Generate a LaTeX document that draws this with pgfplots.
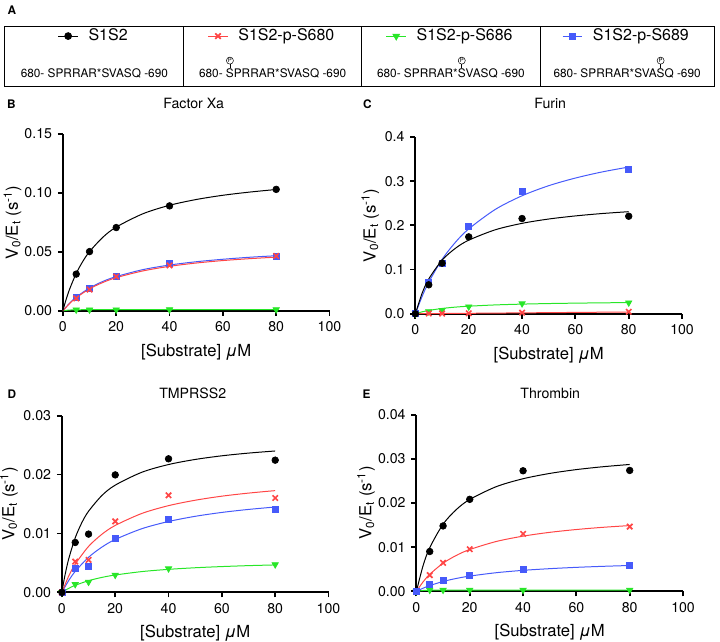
\documentclass[border=0pt]{standalone}
\usepackage{pgfplots}
\pgfplotsset{compat=1.18}
\usepackage{fontspec}
\setmainfont{TeX Gyre Heros}
\definecolor{sred}{RGB}{255,70,70}
\definecolor{sgreen}{RGB}{40,230,40}
\definecolor{sblue}{RGB}{70,90,250}

% circled P over a residue
\newcommand\circP{\tikz[baseline=(p.base)]\node[draw,circle,inner sep=0.25pt,line width=0.3pt,font=\fontsize{3.6}{4}\selectfont](p){P};}
\newcommand\phos[1]{\ooalign{#1\cr\hidewidth\raisebox{5.7pt}{\rule{0.35pt}{2.5pt}}\hidewidth\cr\hidewidth\raisebox{9.0pt}{\circP}\hidewidth\cr}}
\newcommand\seqfont{\fontsize{7.1}{8}\selectfont}

\pgfplotsset{
  panel/.style={
    scale only axis, width=160.2pt, height=106.2pt, anchor=south west,
    xmin=0, xmax=100, ymin=0, clip=false,
    axis x line*=bottom, axis y line*=left,
    axis line style={line width=1.1pt},
    tick align=outside, major tick length=3pt,
    tick style={line width=1.1pt, black},
    xtick={0,20,...,100},
    scaled y ticks=false,
    tick label style={font=\fontsize{8.5}{10}\selectfont},
    /pgf/number format/assume math mode=true,
    yticklabel style={/pgf/number format/fixed, /pgf/number format/fixed zerofill, /pgf/number format/precision=2},
    xlabel={[Substrate] {\itshape μ}M},
    ylabel={V\textsubscript{0}/E\textsubscript{t} (s\textsuperscript{-1})},
    label style={font=\fontsize{8.5}{10}\selectfont},
    every axis x label/.style={at={(axis description cs:0.5,-0.184)}, anchor=north, inner sep=0pt},
    legend style={draw=none, fill=none, font=\fontsize{9.6}{11}\selectfont, anchor=center, inner sep=0pt,
      /tikz/every odd column/.append style={column sep=4pt}},
  },
  ylab/.style={every axis y label/.style={at={(axis description cs:#1,0.5)}, rotate=90, anchor=south, inner sep=0pt}},
  cv/.style={line width=0.6pt, smooth, forget plot},
  pk/.style={only marks, forget plot},
  kblack/.style={black, mark=*, mark size=2pt},
  kred/.style={sred, mark=x, mark size=2.3pt, mark options={line width=1pt}},
  kgreen/.style={sgreen, mark=triangle*, mark size=2.2pt, mark options={rotate=180}},
  kblue/.style={sblue, mark=square*, mark size=1.8pt},
  legend image code/.code={\draw[mark repeat=2,mark phase=2,line width=0.6pt,#1] plot coordinates {(0cm,0cm) (0.21cm,0cm) (0.42cm,0cm)};},
}

\begin{document}
\begin{tikzpicture}
\path (0pt,0pt) rectangle (432pt,384.6pt);

% texts and frame, in pixel units from top-left
\begin{scope}[x=0.6pt, y=-0.6pt, shift={(0pt,384.6pt)}]
\draw[line width=0.6pt] (4,25) rectangle (714,85);
\draw[line width=0.6pt] (183,25) -- (183,85) (361,25) -- (361,85) (540,25) -- (540,85);
\node[anchor=base, font=\fontsize{7.1}{8}\bfseries] at (11,13) {A};
\node[anchor=base, font=\seqfont] at (93.5,76.7) {680- SPRRAR*SVASQ -690};
\node[anchor=base, font=\seqfont] at (272,76.7) {680- \phos{S}PRRAR*SVASQ -690};
\node[anchor=base, font=\seqfont] at (450.5,76.7) {680- SPRRAR*\phos{S}VASQ -690};
\node[anchor=base, font=\seqfont] at (627,76.7) {680- SPRRAR*SVA\phos{S}Q -690};
\foreach \l/\x/\y in {B/10.5/107, C/367/107, D/11/398, E/366/398}
  \node[anchor=base, font=\fontsize{7.1}{8}\bfseries] at (\x,\y) {\l};
\node[anchor=base, font=\fontsize{8.5}{10}\selectfont] at (193,107.3) {Factor Xa};
\node[anchor=base, font=\fontsize{8.5}{10}\selectfont] at (550,107.3) {Furin};
\node[anchor=base, font=\fontsize{8.5}{10}\selectfont] at (192,398) {TMPRSS2};
\node[anchor=base, font=\fontsize{8.5}{10}\selectfont] at (550,398) {Thrombin};
\end{scope}

% ---- B: Factor Xa
\begin{axis}[panel, ylab=-0.154, at={(37.2pt,198.6pt)}, ymax=0.15, ytick={0,0.05,0.1,0.15},
  legend style={at={(0.118,1.554)}}]
\addlegendimage{kblack}\addlegendentry{S1S2}
\addplot[cv, sblue] coordinates {(0,0) (2.5,0.0064) (5,0.0116) (10,0.0193) (15,0.0249) (20,0.0290) (30,0.0349) (40,0.0388) (50,0.0416) (60,0.0437) (70,0.0454) (80,0.0467)};
\addplot[pk, kblue] coordinates {(5,0.0115) (10,0.0190) (20,0.0295) (40,0.0400) (80,0.0462)};
\addplot[cv, sgreen] coordinates {(0,0) (2.5,0.0006) (5,0.0008) (10,0.0009) (20,0.0009) (40,0.0010) (80,0.0010)};
\addplot[pk, kgreen] coordinates {(5,0.0008) (10,0.0008) (20,0.0009) (40,0.0010) (80,0.0010)};
\addplot[cv, sred] coordinates {(0,0) (2.5,0.0061) (5,0.0111) (10,0.0186) (15,0.0240) (20,0.0281) (30,0.0338) (40,0.0377) (50,0.0405) (60,0.0426) (70,0.0442) (80,0.0455)};
\addplot[pk, kred] coordinates {(5,0.0105) (10,0.0180) (20,0.0290) (40,0.0385) (80,0.0465)};
\addplot[cv, black] coordinates {(0,0) (1,0.0080) (2.5,0.0182) (5,0.0317) (7.5,0.0420) (10,0.0502) (15,0.0624) (20,0.0710) (30,0.0823) (40,0.0895) (50,0.0944) (60,0.0980) (70,0.1007) (80,0.1029)};
\addplot[pk, kblack] coordinates {(5,0.0311) (10,0.0502) (20,0.0706) (40,0.0890) (80,0.1030)};
\end{axis}

% ---- C: Furin
\begin{axis}[panel, ylab=-0.135, at={(249pt,196.8pt)}, ymax=0.4, ytick={0,0.1,...,0.4},
  yticklabel style={/pgf/number format/precision=1},
  legend style={at={(-0.5356,1.5706)}}]
\addlegendimage{kred}\addlegendentry{S1S2-p-S680}
\addplot[cv, sgreen] coordinates {(0,0) (2.5,0.0043) (5,0.0075) (10,0.0120) (15,0.0150) (20,0.0171) (30,0.0200) (40,0.0218) (50,0.0231) (60,0.0240) (70,0.0247) (80,0.0253)};
\addplot[pk, kgreen] coordinates {(0,0) (5,0.005) (10,0.008) (20,0.016) (40,0.023) (80,0.025)};
\addplot[cv, sred] coordinates {(0,0) (20,0.001) (40,0.002) (60,0.003) (80,0.004)};
\addplot[pk, kred] coordinates {(0,0) (5,0.0005) (10,0.0005) (20,0.001) (40,0.0025) (80,0.0045)};
\addplot[cv, sblue] coordinates {(0,0) (2.5,0.0389) (5,0.0714) (10,0.1229) (15,0.1617) (20,0.1920) (30,0.2363) (40,0.2670) (50,0.2898) (60,0.3071) (70,0.3209) (80,0.3320)};
\addplot[pk, kblue] coordinates {(0,0) (5,0.071) (10,0.113) (20,0.197) (40,0.278) (80,0.327)};
\addplot[cv, black] coordinates {(0,0) (2.5,0.0462) (5,0.0787) (10,0.1213) (15,0.1481) (20,0.1665) (30,0.1901) (40,0.2046) (50,0.2144) (60,0.2214) (70,0.2268) (80,0.2310)};
\addplot[pk, kblack] coordinates {(0,0) (5,0.0655) (10,0.1145) (20,0.174) (40,0.2155) (80,0.2207)};
\end{axis}

% ---- D: TMPRSS2
\begin{axis}[panel, ylab=-0.164, at={(36.6pt,29.4pt)}, ymax=0.03, ytick={0,0.01,0.02,0.03},
  legend style={at={(1.4588,3.1469)}}]
\addlegendimage{kgreen}\addlegendentry{S1S2-p-S686}
\addplot[cv, sgreen] coordinates {(0,0) (2.5,0.00067) (5,0.00120) (10,0.00198) (15,0.00254) (20,0.00295) (30,0.00353) (40,0.00391) (50,0.00418) (60,0.00438) (70,0.00454) (80,0.00466)};
\addplot[pk, kgreen] coordinates {(0,0) (5,0.00136) (10,0.00176) (20,0.00295) (40,0.00403) (80,0.00472)};
\addplot[cv, sblue] coordinates {(0,0) (2.5,0.00197) (5,0.00356) (10,0.00596) (15,0.00768) (20,0.00898) (30,0.01081) (40,0.01203) (50,0.01291) (60,0.01357) (70,0.01408) (80,0.01449)};
\addplot[pk, kblue] coordinates {(0,0) (5,0.00415) (10,0.00438) (20,0.00909) (40,0.01244) (80,0.01415)};
\addplot[cv, sred] coordinates {(0,0) (2.5,0.00271) (5,0.00479) (10,0.00780) (15,0.00986) (20,0.01136) (30,0.01340) (40,0.01472) (50,0.01564) (60,0.01633) (70,0.01685) (80,0.01727)};
\addplot[pk, kred] coordinates {(0,0) (5,0.00523) (10,0.00551) (20,0.01205) (40,0.01648) (80,0.01602)};
\addplot[cv, black] coordinates {(0,0) (1,0.00255) (2.5,0.00559) (5,0.00926) (7.5,0.01185) (10,0.01377) (15,0.01644) (20,0.01820) (30,0.02039) (40,0.02170) (50,0.02256) (60,0.02318) (70,0.02364) (80,0.02400)};
\addplot[pk, kblack] coordinates {(0,0) (5,0.00847) (10,0.00989) (20,0.01994) (40,0.02267) (80,0.02244)};
\end{axis}

% ---- E: Thrombin
\begin{axis}[panel, ylab=-0.154, at={(249.6pt,30pt)}, ymax=0.04, ytick={0,0.01,...,0.04},
  legend style={at={(0.7903,3.1412)}}]
\addlegendimage{kblue}\addlegendentry{S1S2-p-S689}
\addplot[cv, sgreen] coordinates {(0,0) (2.5,0.0002) (5,0.00025) (10,0.0003) (20,0.0003) (40,0.0003) (80,0.0003)};
\addplot[pk, kgreen] coordinates {(0,0) (5,0.0003) (10,0.0003) (20,0.0003) (40,0.0003) (80,0.0003)};
\addplot[cv, sred] coordinates {(0,0) (2.5,0.00215) (5,0.00386) (10,0.00638) (15,0.00815) (20,0.00947) (30,0.01130) (40,0.01250) (50,0.01336) (60,0.01400) (70,0.01450) (80,0.01489)};
\addplot[pk, kred] coordinates {(0,0) (5,0.00368) (10,0.00647) (20,0.00955) (40,0.01301) (80,0.01466)};
\addplot[cv, black] coordinates {(0,0) (2.5,0.00582) (5,0.00989) (10,0.01521) (15,0.01853) (20,0.02080) (30,0.02371) (40,0.02549) (50,0.02669) (60,0.02756) (70,0.02821) (80,0.02872)};
\addplot[pk, kblack] coordinates {(0,0) (5,0.00902) (10,0.01481) (20,0.02083) (40,0.02729) (80,0.02737)};
\addplot[cv, sblue] coordinates {(0,0) (2.5,0.00072) (5,0.00131) (10,0.00224) (15,0.00293) (20,0.00346) (30,0.00423) (40,0.00476) (50,0.00514) (60,0.00544) (70,0.00567) (80,0.00586)};
\addplot[pk, kblue] coordinates {(0,0) (5,0.0015) (10,0.0024) (20,0.00353) (40,0.00496) (80,0.00579)};
\end{axis}
\end{tikzpicture}
\end{document}
